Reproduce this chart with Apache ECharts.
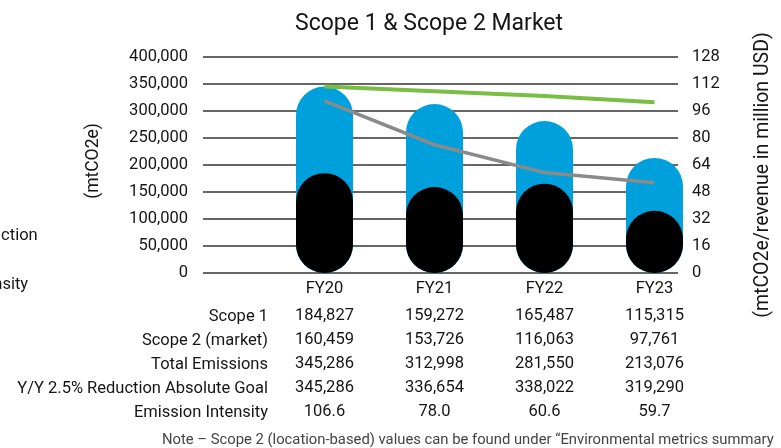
<!DOCTYPE html>
<html>
<head>
<meta charset="utf-8">
<script src="https://cdn.jsdelivr.net/npm/echarts@6/dist/echarts.min.js"></script>
<style>
  html, body { margin: 0; padding: 0; background: #fff; }
  #chart { width: 781px; height: 448px; }
</style>
</head>
<body>
<div id="chart"></div>
<script>
// Scope 1 + Scope 2 (market) emissions, goal line and intensity, with the data table under the axis.
const categories = ["FY20", "FY21", "FY22", "FY23"]
const scope1 = [184827, 159272, 165487, 115315]
const scope2 = [160459, 153726, 116063, 97761]
const totalEmissions = [345286, 312998, 281550, 213076]
const reductionGoal = [345286, 336654, 338022, 319290]
const intensity = [106.6, 78.0, 60.6, 59.7]
// the two lines as they are drawn in the picture (the plot does not follow the table exactly)
const goalLine = [345286, 336654, 328000, 316000]
const intensityLine = [102, 76, 59.5, 53.5]
const rowLabels = ["Scope 1", "Scope 2 (market)", "Total Emissions", "Y/Y 2.5% Reduction Absolute Goal", "Emission Intensity"]
const leftTicks = {min: 0, max: 400000, interval: 50000}
const rightTicks = {min: 0, max: 128, interval: 16}

const FONT = "Roboto, sans-serif"
const INK = "#151515"
const BLUE = "#00a0dc"
const GREEN = "#78be43"
const GREY = "#8a8a8a"
const GRIDLINE = "#333"

const num = v => v.toLocaleString("en-US")

// table rows, each a list of strings per category
const tableRows = [
  scope1.map(num),
  scope2.map(num),
  totalEmissions.map(num),
  reductionGoal.map(num),
  intensity.map(v => v.toFixed(1)),
]

const PLOT_TOP = 57
const PLOT_H = 216
const ROW_Y0 = 317
const ROW_STEP = 24
const TXT = 16.5

const chart = echarts.init(document.getElementById("chart"), null, {renderer: "canvas"})

chart.setOption({
  animation: false,
  textStyle: {fontFamily: FONT, color: INK},
  title: {
    text: "Scope 1 & Scope 2 Market",
    left: 290,
    top: 8,
    textStyle: {fontFamily: FONT, fontSize: 23, fontWeight: "normal", color: INK},
  },
  legend: {
    orient: "vertical",
    left: -142,
    top: 222,
    itemGap: 32,
    itemWidth: 25,
    itemHeight: 14,
    data: ["Y/Y 2.5% Reduction", "Emission Intensity"],
    textStyle: {fontFamily: FONT, fontSize: TXT, color: INK},
  },
  grid: [
    // gridlines + visible axes
    {left: 203, right: 76, top: PLOT_TOP, height: PLOT_H, containLabel: false},
    // bars/lines; the categories sit off-centre in the gridline span
    {left: 269.5, width: 440, top: PLOT_TOP, height: PLOT_H, containLabel: false},
  ],
  xAxis: [
    {gridIndex: 0, type: "value", show: false, min: 0, max: 1},
    {
      gridIndex: 1,
      type: "category",
      data: categories,
      axisLine: {show: false},
      axisTick: {show: false},
      axisLabel: {
        margin: 1,
        interval: 0,
        formatter: (value, idx) =>
          ["{h|" + value + "}"].concat(tableRows.map(r => "{v|" + r[idx] + "}")).join("\n"),
        rich: {
          h: {fontFamily: FONT, fontSize: TXT, lineHeight: 30, color: INK},
          v: {fontFamily: FONT, fontSize: TXT, lineHeight: 24, color: INK},
        },
      },
    },
  ],
  yAxis: [
    {
      gridIndex: 0,
      type: "value",
      ...leftTicks,
      name: "(mtCO2e)",
      nameLocation: "middle",
      nameRotate: 90,
      nameGap: 100,
      nameTextStyle: {fontFamily: FONT, fontSize: 17.5, color: INK, padding: [0, 0, 0, 8]},
      axisLine: {show: false},
      axisTick: {show: false},
      axisLabel: {margin: 15, fontSize: TXT, color: INK, formatter: v => num(v)},
      splitLine: {show: true, lineStyle: {color: GRIDLINE, width: 1.5}},
    },
    {
      gridIndex: 0,
      type: "value",
      position: "right",
      ...rightTicks,
      name: "(mtCO2e/revenue in million USD)",
      nameLocation: "middle",
      nameRotate: 90,
      nameGap: 75,
      nameTextStyle: {fontFamily: FONT, fontSize: 19.5, color: INK, padding: [0, 20, 0, 0]},
      axisLine: {show: false},
      axisTick: {show: false},
      axisLabel: {margin: 14, fontSize: TXT, color: INK},
      splitLine: {show: false},
    },
    {gridIndex: 1, type: "value", show: false, ...leftTicks},
    {gridIndex: 1, type: "value", show: false, ...rightTicks},
  ],
  series: [
    {
      name: "Total Emissions",
      type: "bar",
      xAxisIndex: 1,
      yAxisIndex: 2,
      data: totalEmissions,
      barWidth: 57,
      barGap: "-100%",
      itemStyle: {color: BLUE, borderRadius: 28.5},
    },
    {
      name: "Scope 1",
      type: "bar",
      xAxisIndex: 1,
      yAxisIndex: 2,
      data: scope1,
      barWidth: 57,
      barGap: "-100%",
      itemStyle: {color: "#000", borderRadius: 28.5},
    },
    {
      name: "Y/Y 2.5% Reduction",
      type: "line",
      xAxisIndex: 1,
      yAxisIndex: 2,
      data: goalLine,
      symbol: "none",
      lineStyle: {color: GREEN, width: 4},
      itemStyle: {color: GREEN},
    },
    {
      name: "Emission Intensity",
      type: "line",
      xAxisIndex: 1,
      yAxisIndex: 3,
      data: intensityLine,
      symbol: "none",
      lineStyle: {color: GREY, width: 3.5},
      itemStyle: {color: GREY},
    },
  ],
  graphic: rowLabels.map((label, i) => ({
    type: "text",
    x: 268,
    y: ROW_Y0 + i * ROW_STEP,
    style: {text: label, font: TXT + "px " + FONT, fill: INK, textAlign: "right", textVerticalAlign: "middle"},
  })).concat([{
    type: "text",
    x: 162,
    y: 440,
    style: {
      text: "Note – Scope 2 (location-based) values can be found under “Environmental metrics summary",
      font: "14.8px " + FONT,
      fill: "#444",
      textVerticalAlign: "middle",
    },
  }]),
})
</script>
</body>
</html>
